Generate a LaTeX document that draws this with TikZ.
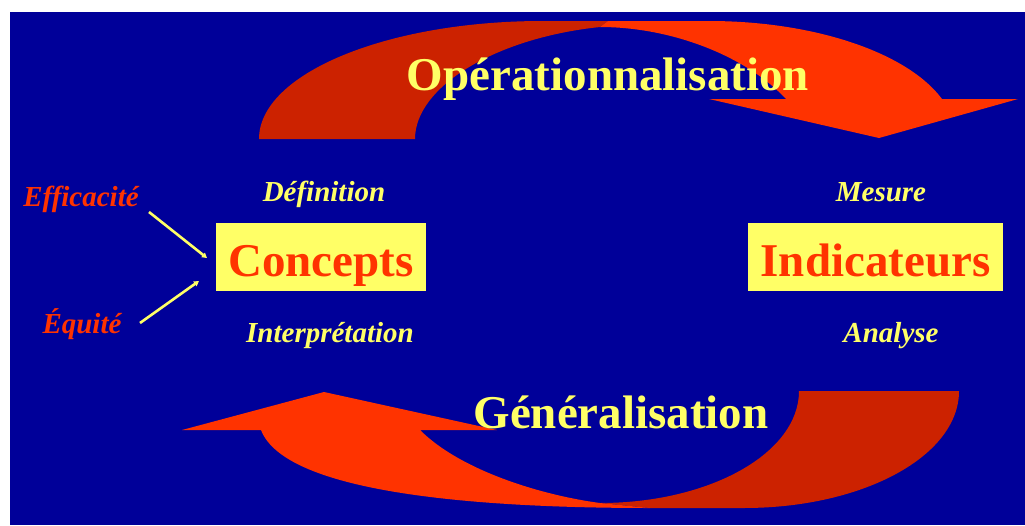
\documentclass[tikz,border=0pt]{standalone}
\usepackage{fontspec}
\setmainfont{Liberation Serif}
\usetikzlibrary{arrows.meta}
\definecolor{bgblue}{RGB}{0,0,153}
\definecolor{backred}{RGB}{204,34,0}
\definecolor{frontred}{RGB}{255,51,0}
\definecolor{lightyellow}{RGB}{255,255,102}
\begin{document}
\begin{tikzpicture}[x=1pt,y=-1pt,
  bigtitle/.style={text=lightyellow, font=\fontsize{47}{50}\selectfont\bfseries, anchor=base, inner sep=0pt},
  keybox/.style={fill=lightyellow, text=frontred, font=\fontsize{47}{50}\selectfont\bfseries, inner sep=0pt, text height=40pt, text depth=2pt, minimum height=68pt},
  sublabel/.style={text=lightyellow, font=\fontsize{29}{32}\selectfont\bfseries\itshape, anchor=base, inner sep=0pt},
  redlabel/.style={text=frontred, font=\fontsize{29}{32}\selectfont\bfseries\itshape, anchor=base, inner sep=0pt},
  feed/.style={draw=lightyellow, line width=2.6pt, -{Triangle[length=5pt,width=5.5pt]}},
  backpart/.style={fill=backred},
  frontpart/.style={fill=frontred}]
\useasboundingbox (0,0) rectangle (1025,525);
\fill[white] (0,0) rectangle (1025,525);
\fill[bgblue] (10,12) rectangle (1025,525);

% top curved arrow (Operationnalisation)
\fill[backpart] (259,139) .. controls (259,74) and (386,21) .. (543,21) -- (608,21) -- (600,27)
  .. controls (495,38) and (415,87) .. (415,139) -- cycle;
\fill[frontpart] (608,21) -- (709,21) .. controls (813,21) and (907,52) .. (942,99)
  -- (1018,99) -- (879,138) -- (709,99) -- (786,99)
  .. controls (745,55) and (670,27) .. (600,27) -- cycle;

% bottom curved arrow (Generalisation)
\fill[backpart] (959,391) .. controls (959,456) and (863,508) .. (744,508) -- (650,508) -- (600,503)
  .. controls (710,503) and (799,453) .. (799,391) -- cycle;
\fill[frontpart] (650,508) .. controls (470,508) and (285,492) .. (261,430)
  -- (182,430) -- (324,392) -- (497,430) -- (420,430)
  .. controls (460,470) and (540,495) .. (600,503) -- cycle;

% titles
\node[bigtitle] (oper) at (608,90) {Opérationnalisation};
\node[bigtitle] (gener) at (621,428) {Généralisation};

% boxes
\node[keybox, minimum width=210pt] (concepts) at (321,257) {Concepts};
\node[keybox, minimum width=255pt] (indic) at (875.5,257) {Indicateurs};

% sub labels
\node[sublabel] (defin) at (324,201) {Définition};
\node[sublabel] (interp) at (330,342) {Interprétation};
\node[sublabel] (mesure) at (881,201) {Mesure};
\node[sublabel] (analyse) at (891,342) {Analyse};

% red labels
\node[redlabel] (effic) at (81,206) {Efficacité};
\node[redlabel] (equite) at (82,333) {Équité};

% feeding arrows
\coordinate (efffrom) at (149,212);
\coordinate (effto) at (207,258);
\coordinate (equfrom) at (140,323);
\coordinate (equto) at (199,281);
\draw[feed] (efffrom) -- (effto);
\draw[feed] (equfrom) -- (equto);
\end{tikzpicture}
\end{document}
